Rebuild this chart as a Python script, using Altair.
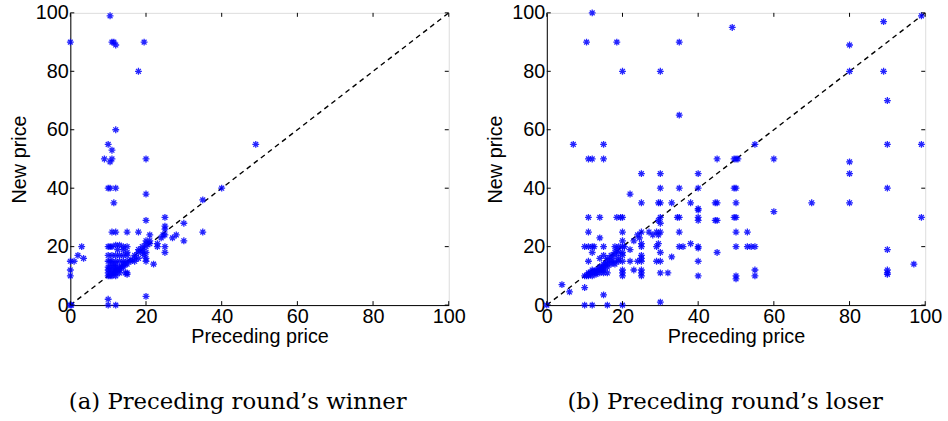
import altair as alt
import pandas as pd

# ---- data: (a) preceding round's winner ----
winner_prev = [0, 10.5, 11, 11.5, 12, 19.5, 18,
               12, 10, 11, 9, 10.5, 11, 20,
               10, 10.5, 12, 11.5, 20, 49, 40, 35, 35,
               30, 30, 25, 25, 25, 25, 25, 25, 27, 28, 24, 24.5, 23, 23,
               22, 20, 20, 10, 10, 12, 0, 0.3,
               0, 1, 0, 0, 2, 3, 3.5,
               11, 12, 15, 18,
               10, 10.5, 11, 12, 13, 14, 15, 12.5, 14, 15, 13, 14, 15, 16, 17, 17, 18, 18, 19, 19, 20, 20, 21, 21, 20, 21, 19.5, 20, 20, 18, 19, 20,
               10, 10.5, 11, 12, 13, 14, 15, 10, 11, 12, 10, 10, 10, 10, 10.5, 11, 11, 11, 11.5, 12, 12, 12, 12, 12.5, 13, 13, 13.5, 14, 14, 14.5, 15, 15, 15, 14.5, 13, 12, 11, 10.5, 11.5, 16, 17]
winner_new = [90, 99, 90, 90, 89, 90, 80,
              60, 55, 53, 50, 49, 50, 50,
              40, 40, 40, 35, 38, 55, 40, 36, 25,
              28, 22, 30, 27, 26, 24, 20, 18, 23, 24, 23, 24, 21, 20,
              14, 29, 3, 2, 0, 0, 0, 0,
              15, 15, 12, 10, 17, 20, 16,
              25, 25, 25, 25,
              20, 20, 20, 20.5, 20.5, 20, 20, 19, 19, 18, 17, 17, 17, 15, 15, 17, 18, 19, 19, 20, 20, 21, 21, 22, 22, 24, 17, 16, 15, 16, 18, 18,
              15, 15, 15, 15, 15, 15, 15, 17, 17, 17, 13, 12, 11, 10, 10, 10, 11, 12, 11, 10, 11, 12, 13, 12, 12, 13, 13, 13, 14, 14, 14, 11, 10.5, 11, 11, 14, 14, 13, 13, 15.5, 16]

# ---- data: (b) preceding round's loser ----
loser_prev = [12, 10.5, 18.5, 20, 30, 35, 35, 49, 89, 99, 80, 80, 89, 90, 90, 99, 60, 80, 80, 80, 70, 60, 90, 99, 90, 97, 90, 90, 90,
              7, 15, 11, 12, 15,
              50, 49.5, 50.5, 55, 45,
              25, 30, 40,
              30, 35, 40, 50, 49.5, 22,
              25, 30, 29.5, 33, 38, 45, 44.5, 50,
              40, 40,
              11, 14, 18.5, 19.5, 20, 30, 29.5, 30, 35, 34.5, 40, 40, 45, 44.5, 50, 49.5,
              11, 20, 25, 24, 23, 24.5, 27, 28, 29, 30, 29.5, 35, 50, 53,
              14, 20, 38,
              10, 11, 12, 12.5, 15, 18, 19, 20, 20.5, 22, 25, 25, 29, 29.5, 35, 36, 40, 40, 50, 53, 55, 54,
              45, 30, 33, 12,
              11, 19, 20, 22, 24, 25, 25, 25, 29, 30, 40,
              20, 23, 25, 55, 30, 32, 20, 20, 25, 25, 40, 50, 50, 55,
              4, 6, 10, 15, 10, 12, 16, 20, 30, 0,
              10, 10.5, 11, 11, 11.5, 12, 12, 12.5, 13, 13, 13.5, 14, 14, 14.5, 14.5, 15, 15, 15, 15.5, 16, 16, 14, 15, 16, 17, 17, 18, 18, 17, 18, 18, 19, 19, 18.5, 20, 20, 16, 15, 14, 13, 12, 11, 17, 16]
loser_new = [100, 90, 90, 80, 80, 90, 65, 95, 97, 99, 89, 80, 80, 70, 55, 55, 50, 49, 45, 35, 35, 32, 40, 30, 19, 14, 11, 10.5, 12,
             55, 55, 50, 50, 50,
             50, 50, 50, 55, 50,
             45, 45, 45,
             40, 40, 40, 40, 40, 38,
             35, 35, 35, 35, 35, 35, 35, 35,
             33, 32.5,
             30, 30, 30, 30, 30, 30, 29, 28, 30, 30, 30, 29, 29, 29, 30, 30,
             25, 25, 25, 24, 22, 23, 25, 24, 25, 25, 24, 25, 25, 25,
             23, 22, 21,
             20, 20, 20, 20, 20, 20, 20, 20, 20, 19, 20, 21, 20, 21, 20, 20, 20, 19.5, 20, 20, 20, 20,
             18, 18, 16.5, 18,
             15, 15, 15, 15, 15, 15, 16, 17, 15, 15, 15,
             12, 12, 12, 12, 11, 11, 10, 11, 10, 11, 10, 10, 9, 10,
             7, 4.5, 6, 3.5, 0, 0, 0, 0, 1, 0,
             10, 10, 10.5, 11, 11, 11, 12, 11.5, 12, 11, 12, 12, 13, 13, 12, 13, 14, 12, 14, 15, 13, 16, 17, 16, 17, 16, 18, 17, 14, 15, 14, 16, 18, 19, 17, 18, 11, 11, 11, 10.5, 10, 10, 15, 14]

tick_values = [0, 20, 40, 60, 80, 100]
diag_x = [0, 100]
diag_y = [0, 100]

W, H = 382, 295
TICK = 4
ASTERISK = "M0,-1L0,1M-1,0L1,0M-0.7,-0.7L0.7,0.7M-0.7,0.7L0.7,-0.7"
SANS = "Liberation Sans"
SERIF = "DejaVu Serif"
FS = 20


def panel(xs, ys, caption, dx):
    pts = pd.DataFrame({"prev": xs, "new": ys})
    ticks = pd.DataFrame({"t": tick_values})
    diag = pd.DataFrame({"prev": diag_x, "new": diag_y})

    xscale = alt.Scale(domain=[0, 100], nice=False, zero=False)
    yscale = alt.Scale(domain=[0, 100], nice=False, zero=False)
    xaxis = alt.Axis(values=tick_values, title="Preceding price", grid=False, ticks=False,
                     domainColor="black", labelColor="black", titleColor="black",
                     labelFont=SANS, titleFont=SANS, labelFontSize=FS, titleFontSize=FS,
                     titleFontWeight="normal", labelPadding=2, titlePadding=0,
                     labelFlush=False)
    yaxis = alt.Axis(values=tick_values, title="New price", grid=False, ticks=False,
                     domainColor="black", labelColor="black", titleColor="black",
                     labelFont=SANS, titleFont=SANS, labelFontSize=FS, titleFontSize=FS,
                     titleFontWeight="normal", labelPadding=2, titlePadding=6,
                     labelFlush=False)

    diag_line = alt.Chart(diag).mark_line(color="black", strokeDash=[5, 4], strokeWidth=1.4).encode(
        x=alt.X("prev:Q", scale=xscale, axis=xaxis),
        y=alt.Y("new:Q", scale=yscale, axis=yaxis),
    )
    scatter = alt.Chart(pts).mark_point(shape=ASTERISK, filled=False, color="#0000ff",
                                        strokeWidth=1.3, size=48, opacity=0.85).encode(
        x="prev:Q", y="new:Q"
    )
    base_t = alt.Chart(ticks).mark_rule(color="black", strokeWidth=1)
    tl = base_t.encode(y="t:Q", x=alt.value(0), x2=alt.value(TICK))
    tr = base_t.encode(y="t:Q", x=alt.value(W - TICK), x2=alt.value(W))
    tb = base_t.encode(x="t:Q", y=alt.value(H - TICK), y2=alt.value(H))
    tt = base_t.encode(x="t:Q", y=alt.value(0), y2=alt.value(TICK))

    return alt.layer(diag_line, scatter, tl, tr, tb, tt).properties(
        width=W, height=H,
        title=alt.TitleParams(caption, orient="bottom", font=SERIF, fontSize=23,
                              fontWeight="normal", color="black", offset=45, dx=dx),
    )


left = panel(winner_prev, winner_new, "(a) Preceding round\u2019s winner", -22)
right = panel(loser_prev, loser_new, "(b) Preceding round\u2019s loser", -11)

chart = alt.hconcat(left, right, spacing=19).properties(
    padding={"left": 9, "top": 0, "right": 5, "bottom": 0}
).configure_view(stroke="black", strokeWidth=1.2).configure(background="white")

chart.save("out.html", embed_options={"renderer": "svg", "actions": False})
